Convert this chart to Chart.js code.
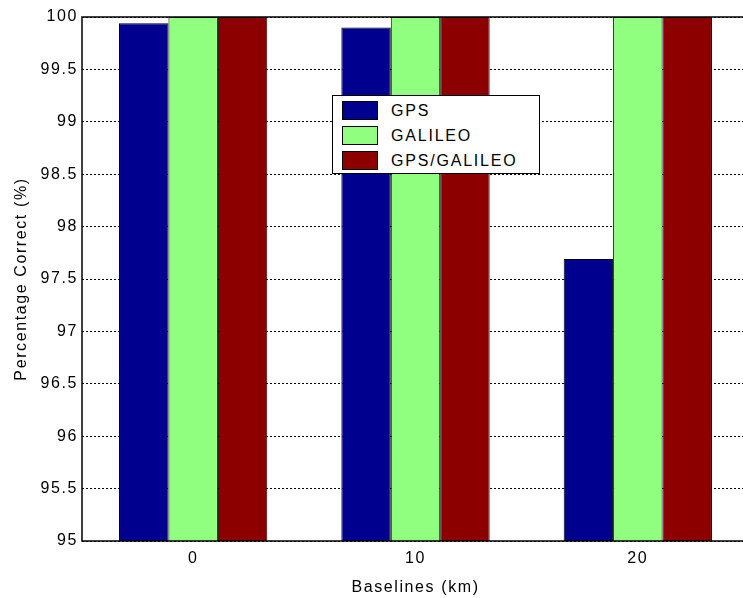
<!DOCTYPE html>
<html>
<head>
<meta charset="utf-8">
<script src="https://cdn.jsdelivr.net/npm/chart.js@4.4.0/dist/chart.umd.min.js"></script>
<style>
  html, body { margin: 0; padding: 0; background: #fff; overflow: hidden; }
  #wrap { position: relative; width: 743px; height: 598px; overflow: hidden; }
  #chart { position: absolute; left: 0; top: 0; }
  #legend {
    position: absolute; left: 332px; top: 95px; width: 206px; height: 77px;
    border: 1px solid #000; background: #fff;
    font-family: "Liberation Sans", Arial, sans-serif; font-size: 16px; color: #000;
    letter-spacing: 1.8px;
  }
  #legend .row { position: absolute; left: 9px; height: 19px; display: flex; align-items: center; }
  #legend .sw { width: 34px; height: 17px; border: 1px solid #000; margin-right: 13px; }
</style>
</head>
<body>
<div id="wrap">
  <canvas id="chart" width="752" height="598" style="width:752px;height:598px"></canvas>
  <div id="legend"></div>
</div>
<script>
// ---------------- Data ----------------
const baselines = ['0', '10', '20'];
const seriesNames = ['GPS', 'GALILEO', 'GPS/GALILEO'];
const gpsValues = [99.94, 99.90, 97.69];
const galileoValues = [100, 100, 100];
const combinedValues = [100, 100, 100];
const seriesColors = ['#00008f', '#90ff80', '#8c0000'];

const FONT = '"Liberation Sans", Arial, sans-serif';
const SPACING = '1.6px';

// the original text is a bit wider than Arial, spread it a little
const wideText = {
  id: 'wideText',
  beforeLayout(chart){ chart.ctx.letterSpacing = SPACING; },
  beforeDraw(chart){ chart.ctx.letterSpacing = SPACING; }
};

// box round the plot area (MATLAB style axes)
const axesBox = {
  id: 'axesBox',
  afterDraw(chart){
    const {ctx, chartArea:a} = chart;
    ctx.save();
    ctx.strokeStyle = '#000'; ctx.lineWidth = 1.5;
    ctx.strokeRect(a.left, a.top, a.right - a.left, a.bottom - a.top);
    ctx.restore();
  }
};

const chart = new Chart(document.getElementById('chart').getContext('2d'), {
  type: 'bar',
  data: {
    labels: baselines,
    datasets: [gpsValues, galileoValues, combinedValues].map((d,i)=>({
      label: seriesNames[i], data: d,
      backgroundColor: seriesColors[i], borderColor: '#000', borderWidth: 1,
      categoryPercentage: 0.667, barPercentage: 1
    }))
  },
  options: {
    responsive: false, animation: false,
    layout: { padding: { top: 17, right: 3, bottom: 0, left: 0 } },
    plugins: { legend: { display: false }, tooltip: { enabled: false } },
    scales: {
      x: {
        grid: { display: false, drawTicks: false },
        border: { display: false },
        ticks: { color: '#000', font: { family: FONT, size: 16 }, padding: 8 },
        title: { display: true, text: 'Baselines (km)', color: '#000', font: { family: FONT, size: 16 }, padding: { top: 0, bottom: 1 } },
        afterFit: s => { s.height = 57; }
      },
      y: {
        min: 95, max: 100,
        grid: { color: '#000', lineWidth: 1, drawTicks: false },
        border: { display: false, dash: [2, 2] },
        ticks: { stepSize: 0.5, color: '#000', font: { family: FONT, size: 16 }, padding: 4, callback: v => String(v) },
        title: { display: true, text: 'Percentage Correct (%)', color: '#000', font: { family: FONT, size: 16 }, padding: { top: 12, bottom: 0 } },
        afterFit: s => { s.width = 82; }
      }
    }
  },
  plugins: [wideText, axesBox]
});

// ---------------- Legend ----------------
const legendEl = document.getElementById('legend');
chart.data.datasets.forEach((ds, i)=>{
  const row = document.createElement('div');
  row.className = 'row';
  row.style.top = (5 + i * 25) + 'px';
  row.innerHTML = `<span class="sw" style="background:${ds.backgroundColor}"></span><span>${ds.label}</span>`;
  legendEl.appendChild(row);
});
</script>
</body>
</html>
